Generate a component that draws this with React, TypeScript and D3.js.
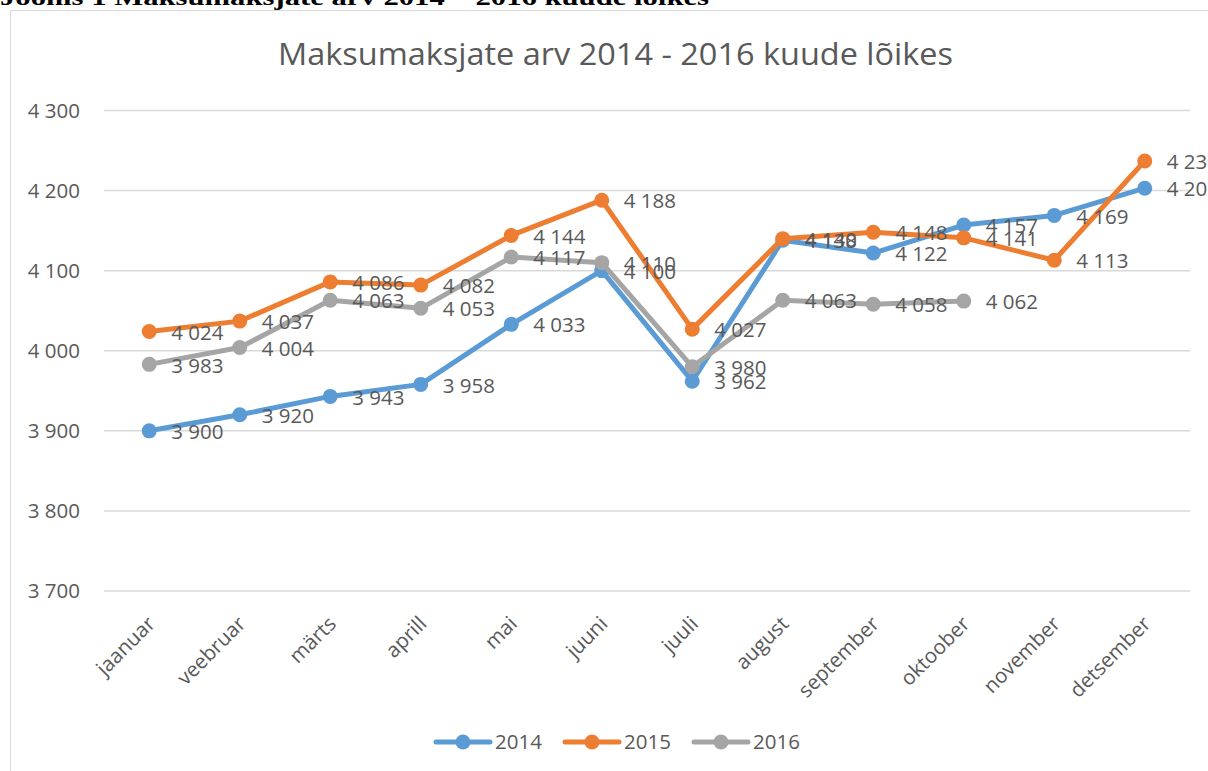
import React from "react";
import * as d3 from "d3";

const months = ["jaanuar", "veebruar", "märts", "aprill", "mai", "juuni", "juuli", "august", "september", "oktoober", "november", "detsember"];
const s2014 = [3900, 3920, 3943, 3958, 4033, 4100, 3962, 4138, 4122, 4157, 4169, 4203];
const s2015 = [4024, 4037, 4086, 4082, 4144, 4188, 4027, 4140, 4148, 4141, 4113, 4237];
const s2016 = [3983, 4004, 4063, 4053, 4117, 4110, 3980, 4063, 4058, 4062];
const yTicks = [3700, 3800, 3900, 4000, 4100, 4200, 4300];
const seriesNames = ["2014", "2015", "2016"];
const colors = ["#5B9BD5", "#ED7D31", "#A5A5A5"];

const W = 1208, H = 771;
const FONT = "'Open Sans', Lato, sans-serif";
const TXT = "#595959";
const FS = 20.5;

const fmt = (v: number) => {
  const s = String(v);
  return s.length > 3 ? s.slice(0, s.length - 3) + " " + s.slice(-3) : s;
};

export default function App() {
  const x = d3.scaleBand<string>().domain(months).range([104, 1190]);
  const y = d3.scaleLinear().domain([3700, 4300]).range([591, 110.5]);
  const cx = (m: string) => (x(m) as number) + x.bandwidth() / 2;
  const series = [s2014, s2015, s2016];
  const line = d3.line<number>().x((_, i) => cx(months[i])).y((d) => y(d));

  const legendX = [436, 565, 694];
  return (
    <div style={{ position: "absolute", left: 0, top: 0 }}>
      <svg width={W} height={H} style={{ display: "block" }}>
        <rect x={0} y={0} width={W} height={H} fill="white" />
        <text x={0} y={5} fontFamily="'Liberation Serif', 'Times New Roman', serif" fontWeight="bold" fontSize={24} fill="#000" textLength={709} lengthAdjust="spacingAndGlyphs">
          Joonis 1 Maksumaksjate arv 2014 – 2016 kuude lõikes
        </text>
        <rect x={10.5} y={10.5} width={1300} height={900} fill="white" stroke="#D9D9D9" strokeWidth={1} />
        <text x={615.5} y={65} textAnchor="middle" fontFamily={FONT} fontSize={30.5} fill={TXT} textLength={675} lengthAdjust="spacingAndGlyphs">
          Maksumaksjate arv 2014 - 2016 kuude lõikes
        </text>
        {yTicks.map((t) => (
          <g key={t}>
            <line x1={104} x2={1190} y1={y(t)} y2={y(t)} stroke="#D9D9D9" strokeWidth={1.5} />
            <text x={80} y={y(t)} dy="0.35em" textAnchor="end" fontFamily={FONT} fontSize={FS} fill={TXT}>
              {fmt(t)}
            </text>
          </g>
        ))}
        {months.map((m) => (
          <text key={m} transform={`translate(${cx(m) + 2},${620}) rotate(-45)`} textAnchor="end" dy="0.35em" fontFamily={FONT} fontSize={FS} fill={TXT}>
            {m}
          </text>
        ))}
        {series.map((s, si) => (
          <g key={si}>
            <path d={line(s) || ""} fill="none" stroke={colors[si]} strokeWidth={5} strokeLinejoin="round" strokeLinecap="round" />
            {s.map((v, i) => (
              <circle key={i} cx={cx(months[i])} cy={y(v)} r={7.5} fill={colors[si]} />
            ))}
          </g>
        ))}
        {series.map((s, si) => (
          <g key={"l" + si}>
            {s.map((v, i) => (
              <text key={i} x={cx(months[i]) + 22} y={y(v) + 1} dy="0.35em" fontFamily={FONT} fontSize={FS} fill={TXT}>
                {fmt(v)}
              </text>
            ))}
          </g>
        ))}
        {seriesNames.map((n, i) => (
          <g key={n}>
            <line x1={legendX[i]} x2={legendX[i] + 54} y1={742} y2={742} stroke={colors[i]} strokeWidth={5} strokeLinecap="round" />
            <circle cx={legendX[i] + 27} cy={742} r={7.5} fill={colors[i]} />
            <text x={legendX[i] + 59} y={742} dy="0.35em" fontFamily={FONT} fontSize={FS} fill={TXT}>
              {n}
            </text>
          </g>
        ))}
      </svg>
    </div>
  );
}
